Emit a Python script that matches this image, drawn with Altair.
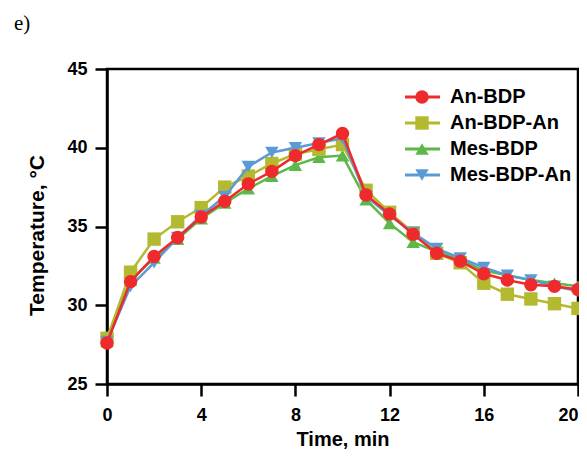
import altair as alt
import pandas as pd

time_min = list(range(21))
series_names = ["An-BDP", "An-BDP-An", "Mes-BDP", "Mes-BDP-An"]
an_bdp = [27.6, 31.5, 33.1, 34.3, 35.6, 36.6, 37.7, 38.5, 39.5, 40.2, 40.9,
          37.0, 35.8, 34.5, 33.3, 32.8, 32.0, 31.6, 31.3, 31.2, 31.0]
an_bdp_an = [27.9, 32.1, 34.2, 35.3, 36.2, 37.5, 38.2, 39.0, 39.6, 39.9, 40.2,
             37.3, 35.9, 34.6, 33.3, 32.7, 31.4, 30.7, 30.4, 30.1, 29.8]
mes_bdp = [27.7, 31.6, 33.0, 34.2, 35.5, 36.5, 37.4, 38.2, 38.9, 39.4, 39.5,
           36.7, 35.2, 34.0, 33.4, 32.9, 32.2, 31.9, 31.6, 31.4, 31.2]
mes_bdp_an = [27.7, 31.2, 32.7, 34.3, 35.7, 36.9, 38.8, 39.7, 40.0, 40.3, 40.6,
              36.9, 35.7, 34.6, 33.6, 33.0, 32.4, 31.9, 31.6, 31.2, 30.9]
x_ticks = [0, 4, 8, 12, 16, 20]
y_ticks = [25, 30, 35, 40, 45]
colors = ["#ee2a2c", "#b4ba30", "#5cb848", "#5b9bd5"]
shapes = ["circle", "square", "triangle-up", "triangle-down"]
draw_order = ["Mes-BDP", "An-BDP-An", "Mes-BDP-An", "An-BDP"]

values = {"An-BDP": an_bdp, "An-BDP-An": an_bdp_an,
          "Mes-BDP": mes_bdp, "Mes-BDP-An": mes_bdp_an}
rows = []
for s in series_names:
    for t, v in zip(time_min, values[s]):
        rows.append({"time": t, "temp": v, "series": s})
df = pd.DataFrame(rows)

color_scale = alt.Scale(domain=series_names, range=colors)
shape_scale = alt.Scale(domain=series_names, range=shapes)

x_enc = alt.X("time:Q", scale=alt.Scale(domain=[0, 20], nice=False),
              axis=alt.Axis(values=x_ticks, title="Time, min", labelFlush=False,
                            labelAlign=alt.ExprRef(expr="datum.value == 20 ? 'right' : 'center'"),
                            labelPadding=10, titleY=61, titleBaseline="alphabetic",
                            titleFontSize=20))
y_enc = alt.Y("temp:Q", scale=alt.Scale(domain=[25, 45], nice=False, zero=False),
              axis=alt.Axis(values=y_ticks, title="Temperature, °C", labelPadding=8,
                            titleX=-70, titleY=166, titleBaseline="middle", titleAngle=270))
c_enc = alt.Color("series:N", scale=color_scale, legend=None)
s_enc = alt.Shape("series:N", scale=shape_scale, legend=None)

base = alt.Chart(df)
data_layers = []
for s in draw_order:
    sub = base.transform_filter(alt.datum.series == s)
    data_layers.append(sub.mark_line(strokeWidth=2.5).encode(x=x_enc, y=y_enc, color=c_enc))
    data_layers.append(sub.mark_point(filled=True, size=180, opacity=1).encode(
        x=x_enc, y=y_enc, color=c_enc, shape=s_enc))
data_chart = alt.layer(*data_layers)

leg_df = pd.DataFrame({"series": series_names})
leg_y = alt.Y("series:N", scale=alt.Scale(type="point", domain=series_names,
                                           range=[28, 106], padding=0), axis=None)
leg_base = alt.Chart(leg_df)
leg_rule = leg_base.mark_rule(strokeWidth=3).encode(
    x=alt.value(298), x2=alt.value(333), y=leg_y, color=c_enc)
leg_pt = leg_base.mark_point(filled=True, size=180, opacity=1).encode(
    x=alt.value(315), y=leg_y, color=c_enc, shape=s_enc)
leg_txt = leg_base.mark_text(align="left", baseline="middle", font="Liberation Sans",
                             fontWeight="bold", fontSize=20, color="black").encode(
    x=alt.value(343), y=leg_y, text="series:N")
legend_chart = alt.layer(leg_rule, leg_pt, leg_txt)

panel = alt.Chart(pd.DataFrame({"t": ["e)"]})).mark_text(
    align="left", baseline="middle", font="Liberation Serif", fontSize=21,
    color="black").encode(x=alt.value(-93), y=alt.value(-45), text="t:N")

chart = alt.layer(data_chart, legend_chart, panel).resolve_scale(y="independent").properties(
    width=471, height=315,
    autosize=alt.AutoSizeParams(type="none"),
    padding={"left": 99, "top": 61, "right": 1, "bottom": 66},
).configure_view(stroke="black", strokeWidth=2.5).configure_axis(
    grid=False, domainColor="black", domainWidth=2.5, tickColor="black",
    tickWidth=2.5, tickSize=12, labelFont="Liberation Sans", labelFontSize=18,
    labelFontWeight="bold", labelColor="black", titleFont="Liberation Sans",
    titleFontSize=21, titleFontWeight="bold", titleColor="black",
)

chart.save("out.html", embed_options={"renderer": "svg", "actions": False})
